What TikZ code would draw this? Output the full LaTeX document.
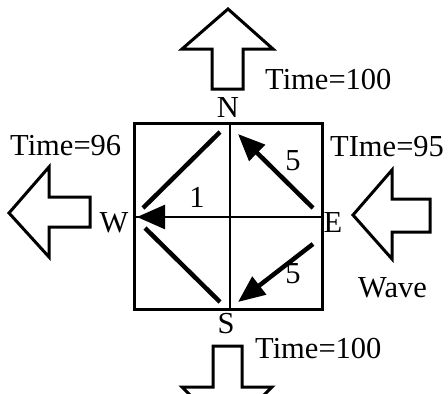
\documentclass[tikz,border=0pt]{standalone}
\usepackage{fontspec}
\setmainfont{Liberation Serif}
\usepackage{tikz}
\usetikzlibrary{arrows.meta}
\tikzset{
  boxline/.style   = {line width=3pt},
  diagline/.style  = {line width=4.5pt},
  diagarr/.style   = {-{Triangle[length=27pt,width=22pt]},line width=4.5pt},
  flatarr/.style   = {-{Triangle[length=28pt,width=24pt]},line width=2.5pt},
  blockarr/.style  = {line width=3pt,line join=miter,fill=white},
  lbl/.style       = {font=\fontsize{30.5}{36}\selectfont,inner sep=0pt,anchor=base},
  lblw/.style      = {lbl,anchor=base west}
}

\begin{document}
\begin{tikzpicture}[x=1pt,y=-1pt]
  \useasboundingbox (0,0) rectangle (448,394);
  \clip (0,0) rectangle (448,394);
  % wave arrows
  \draw[blockarr] (212,89) -- (212,49) -- (182,49) -- (228,9) -- (273,49) -- (243,49) -- (243,89) -- cycle;
  \draw[blockarr] (90,197) -- (49,197) -- (49,167) -- (9,213) -- (49,257) -- (49,227) -- (90,227) -- cycle;
  \draw[blockarr] (430,199) -- (392,199) -- (392,170) -- (353,215) -- (392,259) -- (392,232) -- (430,232) -- cycle;
  \draw[blockarr] (213,346) -- (242,346) -- (242,387) -- (272,387) -- (227,432) -- (182,387) -- (213,387) -- cycle;
  % cell
  \draw[boxline] (134,123) rectangle (322,309);
  \draw[line width=2pt] (230,123) -- (230,309);
  \draw[line width=2pt] (134,217) -- (322,217);
  \coordinate (nw1) at (220,132);
  \coordinate (nw2) at (143,208);
  \coordinate (sw1) at (220,302);
  \coordinate (sw2) at (145,228);
  \coordinate (ew1) at (315,217);
  \coordinate (ew2) at (137,217);
  \coordinate (en1) at (313,208);
  \coordinate (en2) at (238,134);
  \coordinate (es1) at (313,244);
  \coordinate (es2) at (238,302);
  \draw[diagline] (nw1) -- (nw2);
  \draw[diagline] (sw1) -- (sw2);
  \draw[flatarr] (ew1) -- (ew2);
  \draw[diagarr] (en1) -- (en2);
  \draw[diagarr] (es1) -- (es2);
  % labels
  \node[lbl] (n) at (228,117) {N};
  \node[lbl] (s) at (226,333) {S};
  \node[lbl] (w) at (114,232) {W};
  \node[lbl] (e) at (333,232) {E};
  \node[lbl] (one) at (197,207) {1};
  \node[lbl] (fivea) at (293,170) {5};
  \node[lbl] (fiveb) at (293,283) {5};
  \node[lblw] (tn) at (265,89) {Time=100};
  \node[lblw] (tw) at (10,155) {Time=96};
  \node[lblw] (te) at (330,156) {TIme=95};
  \node[lblw] (ts) at (255,358) {Time=100};
  \node[lblw] (wave) at (358,297) {Wave};
\end{tikzpicture}
\end{document}
